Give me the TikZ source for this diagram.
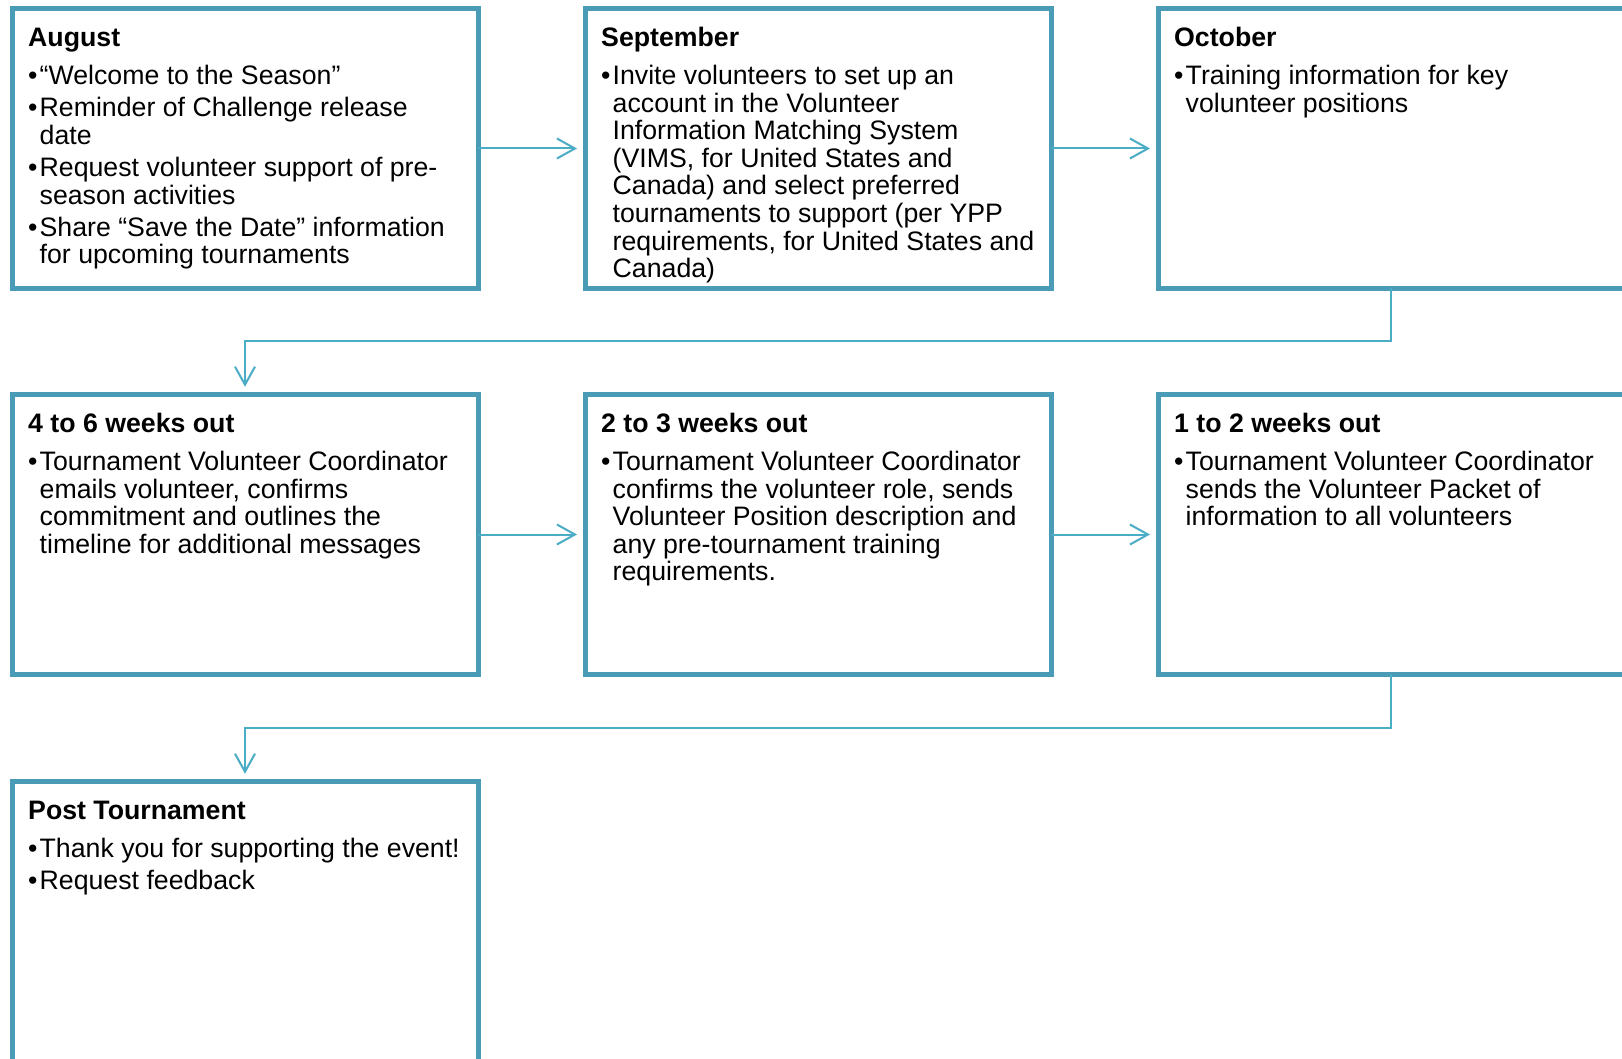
\documentclass[tikz,border=0pt]{standalone}
\usepackage{fontspec}
\setmainfont{Liberation Sans}
\usetikzlibrary{positioning,arrows.meta}
\definecolor{stageteal}{HTML}{4A9BB5}
\definecolor{linkteal}{HTML}{4BACC6}
\newcommand{\bul}{\makebox[11.5pt][l]{\textbullet}}
\newcommand{\hng}{\hspace*{11.5pt}}

\begin{document}
\begin{tikzpicture}[x=1pt, y=1pt,
    stage/.style={rectangle, draw=stageteal, line width=5pt, fill=white,
      minimum width=466pt, minimum height=279.5pt, outer sep=0pt, inner sep=0pt},
    txt/.style={align=left, inner sep=0pt, font=\fontsize{26.7}{27.6}\selectfont},
    link/.style={draw=linkteal, line width=2pt,
      -{Straight Barb[length=18pt,width=20pt]}, shorten >=8pt}]
  \useasboundingbox (0,0) rectangle (1622,-1059);
  \fill[white] (0,0) rectangle (1622,-1059);

  % boxes
  \node[stage] (aug) at (245,-148.5) {};
  \node[stage] (sep) at (818,-148.5) {};
  \node[stage] (oct) at (1391,-148.5) {};
  \node[stage] (wk46) at (245,-534.5) {};
  \node[stage] (wk23) at (818,-534.5) {};
  \node[stage] (wk12) at (1391,-534.5) {};
  \node[stage] (post) at (245,-921.5) {};

  % texts
  \node[txt, below right=18.6pt and 16pt of aug.north west] (augtxt) {\strut\textbf{August}\\[9pt]
    \bul “Welcome to the Season”\\[4.6pt]
    \bul Reminder of Challenge release\\
    \hng date\\[4.6pt]
    \bul Request volunteer support of pre-\\
    \hng season activities\\[4.6pt]
    \bul Share “Save the Date” information\\
    \hng for upcoming tournaments};
  \node[txt, below right=18.6pt and 16pt of sep.north west] (septxt) {\strut\textbf{September}\\[9pt]
    \bul Invite volunteers to set up an\\
    \hng account in the Volunteer\\
    \hng Information Matching System\\
    \hng (VIMS, for United States and\\
    \hng Canada) and select preferred\\
    \hng tournaments to support (per YPP\\
    \hng requirements, for United States and\\
    \hng Canada)};
  \node[txt, below right=18.6pt and 16pt of oct.north west] (octtxt) {\strut\textbf{October}\\[9pt]
    \bul Training information for key\\
    \hng volunteer positions};
  \node[txt, below right=18.6pt and 16pt of wk46.north west] (wk46txt) {\strut\textbf{4 to 6 weeks out}\\[9pt]
    \bul Tournament Volunteer Coordinator\\
    \hng emails volunteer, confirms\\
    \hng commitment and outlines the\\
    \hng timeline for additional messages};
  \node[txt, below right=18.6pt and 16pt of wk23.north west] (wk23txt) {\strut\textbf{2 to 3 weeks out}\\[9pt]
    \bul Tournament Volunteer Coordinator\\
    \hng confirms the volunteer role, sends\\
    \hng Volunteer Position description and\\
    \hng any pre-tournament training\\
    \hng requirements.};
  \node[txt, below right=18.6pt and 16pt of wk12.north west] (wk12txt) {\strut\textbf{1 to 2 weeks out}\\[9pt]
    \bul Tournament Volunteer Coordinator\\
    \hng sends the Volunteer Packet of\\
    \hng information to all volunteers};
  \node[txt, below right=18.6pt and 16pt of post.north west] (posttxt) {\strut\textbf{Post Tournament}\\[9pt]
    \bul Thank you for supporting the event!\\[4.6pt]
    \bul Request feedback};

  % connectors
  \draw[link] (aug.east) -- (sep.west);
  \draw[link] (sep.east) -- (oct.west);
  \draw[link] (oct.south) -- ++(0,-53) -| (wk46.north);
  \draw[link] (wk46.east) -- (wk23.west);
  \draw[link] (wk23.east) -- (wk12.west);
  \draw[link] (wk12.south) -- ++(0,-54) -| (post.north);
\end{tikzpicture}
\end{document}
